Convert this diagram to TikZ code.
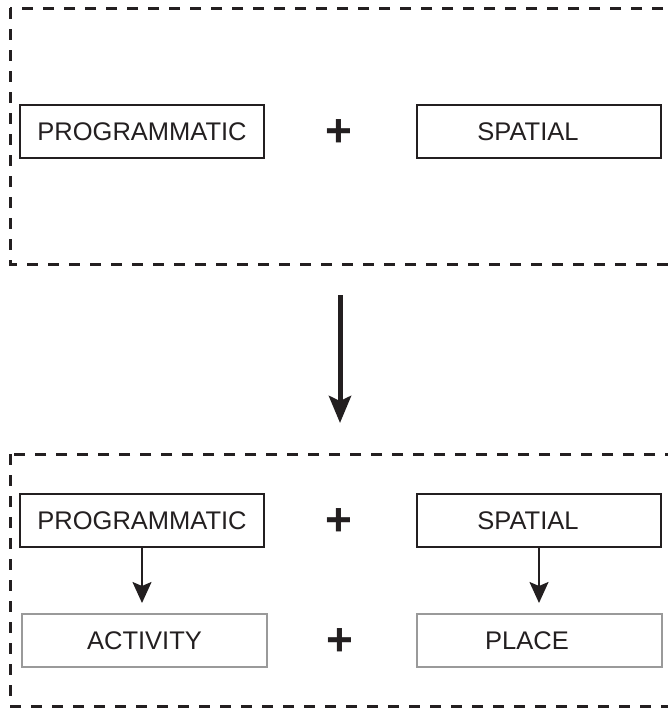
\documentclass[tikz,border=0pt]{standalone}
\usepackage{fontspec}
\setmainfont{Liberation Sans}
\usetikzlibrary{arrows.meta}
\definecolor{ink}{HTML}{231F20}
\definecolor{greyline}{HTML}{9A9A9A}
\tikzset{
  frame/.style={draw=ink, line width=3pt, dash pattern=on 11pt off 10pt},
  termbox/.style={draw=ink, line width=1.2pt, minimum width=244pt, minimum height=53pt,
    inner sep=0pt, text=ink, font=\fontsize{25.5}{30}\selectfont},
  resultbox/.style={termbox, draw=greyline, line width=2pt, minimum width=245pt},
  plussign/.style={text=ink, inner sep=0pt, font=\fontsize{46}{46}\selectfont\bfseries},
  bigarrow/.style={draw=ink, line width=5pt, -{Stealth[length=27pt, width=22pt, inset=5pt]}},
  smallarrow/.style={draw=ink, line width=2pt, -{Stealth[length=21pt, width=19pt, inset=4pt]}, shorten >=10pt}
}
\begin{document}
\begin{tikzpicture}[x=1pt, y=-1pt]
  \useasboundingbox (0,0) rectangle (668,712);
  \clip (0,0) rectangle (668,712);
  \fill[white] (0,0) rectangle (668,712);

  % dashed frames, open on the right where they run off the page
  \draw[frame] (10,8) rectangle (700,264);
  \draw[frame] (10,454) rectangle (700,706);

  % upper frame
  \node[termbox] (prog1) at (142,131.5) {PROGRAMMATIC};
  \node[plussign] (plus1) at (339,133) {+};
  \node[termbox] (spat1) at (539,131.5) {SPATIAL\hspace*{22pt}};

  % transition between the two frames
  \coordinate (top) at (340,295);
  \coordinate (bottom) at (340,423);
  \draw[bigarrow] (top) -- (bottom);

  % lower frame
  \node[termbox] (prog2) at (142,520.5) {PROGRAMMATIC};
  \node[plussign] (plus2) at (339,522) {+};
  \node[termbox] (spat2) at (539,520.5) {SPATIAL\hspace*{22pt}};

  \node[resultbox] (act) at (144.5,640.5) {ACTIVITY};
  \node[plussign] (plus3) at (340,642) {+};
  \node[resultbox] (place) at (539,640.5) {PLACE\hspace*{24pt}};

  \draw[smallarrow] (prog2.south) -- (prog2.south |- act.north);
  \draw[smallarrow] (spat2.south) -- (spat2.south |- place.north);
\end{tikzpicture}
\end{document}
